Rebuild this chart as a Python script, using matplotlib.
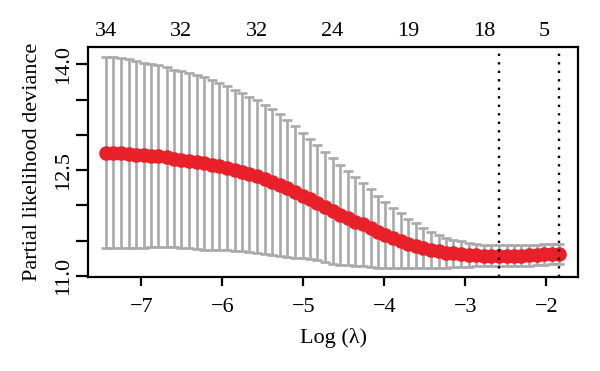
import numpy as np
import matplotlib
import matplotlib.pyplot as plt

matplotlib.use('Agg')

# cv.glmnet style plot: mean partial likelihood deviance +/- 1 se per lambda
log_lambda = [-7.44, -7.35, -7.25, -7.16, -7.07, -6.97, -6.88, -6.79, -6.69, -6.60,
              -6.51, -6.41, -6.32, -6.23, -6.13, -6.04, -5.95, -5.85, -5.76, -5.67,
              -5.57, -5.48, -5.39, -5.29, -5.20, -5.11, -5.01, -4.92, -4.83, -4.73,
              -4.64, -4.55, -4.45, -4.36, -4.27, -4.17, -4.08, -3.99, -3.89, -3.80,
              -3.71, -3.61, -3.52, -3.43, -3.33, -3.24, -3.15, -3.05, -2.96, -2.87,
              -2.77, -2.68, -2.59, -2.49, -2.40, -2.31, -2.21, -2.12, -2.03, -1.93, -1.84]

cvm = [12.75, 12.745, 12.74, 12.73, 12.72, 12.71, 12.705, 12.695, 12.68, 12.665,
       12.65, 12.635, 12.615, 12.595, 12.575, 12.555, 12.53, 12.50, 12.47, 12.44,
       12.41, 12.37, 12.33, 12.29, 12.24, 12.19, 12.14, 12.09, 12.04, 11.98,
       11.92, 11.87, 11.82, 11.77, 11.73, 11.68, 11.63, 11.58, 11.54, 11.50,
       11.46, 11.43, 11.40, 11.37, 11.35, 11.33, 11.32, 11.31, 11.30, 11.295,
       11.29, 11.285, 11.285, 11.285, 11.29, 11.29, 11.295, 11.30, 11.305, 11.31, 11.315]

cvsd = [1.36, 1.355, 1.35, 1.34, 1.33, 1.315, 1.30, 1.29, 1.275, 1.26,
        1.25, 1.24, 1.23, 1.22, 1.20, 1.18, 1.16, 1.14, 1.12, 1.10,
        1.08, 1.06, 1.03, 1.00, 0.97, 0.93, 0.89, 0.85, 0.82, 0.78,
        0.75, 0.71, 0.67, 0.63, 0.59, 0.55, 0.51, 0.47, 0.43, 0.39,
        0.35, 0.32, 0.28, 0.25, 0.23, 0.21, 0.19, 0.18, 0.17, 0.16,
        0.155, 0.15, 0.15, 0.15, 0.15, 0.15, 0.15, 0.145, 0.145, 0.145, 0.145]

# number of non-zero coefficients shown on the top axis
nzero_idx = [0, 10, 20, 30, 40, 50, 58]
nzero_lab = ['34', '32', '32', '24', '19', '18', '5']

# lambda.min and lambda.1se
idx_min = 52
idx_1se = 60

x_ticks = [-7, -6, -5, -4, -3, -2]
y_ticks = [11.0, 11.5, 12.0, 12.5, 13.0, 13.5, 14.0]
y_labels = ['11.0', '', '', '12.5', '', '', '14.0']

plt.rcParams['font.family'] = ['Liberation Serif', 'DejaVu Serif']
fs = 16

x = np.array(log_lambda)
m = np.array(cvm)
s = np.array(cvsd)

fig = plt.figure(figsize=(6, 3.71), dpi=100)
ax = fig.add_axes([0.1467, 0.2534, 0.8166, 0.6199])

# error bars (grey) then the red points on top
ax.errorbar(x, m, yerr=s, fmt='none', ecolor='#a9a9a9', elinewidth=1.9,
            capsize=3.5, capthick=1.9, zorder=2)
ax.plot(x, m, 'o', color='#e8202a', markersize=10.5, markeredgewidth=0, zorder=3)

for i in [idx_min, idx_1se]:
    ax.axvline(x[i], color='black', lw=1.7, linestyle=(0, (1, 2.6)), zorder=4)

ax.set_xlim(-7.66, -1.61)
ax.set_ylim(10.986, 14.245)

ax.set_xticks(x_ticks)
ax.set_yticks(y_ticks)
ax.set_yticklabels(y_labels, rotation=90, va='center')

ax.tick_params(axis='both', direction='out', width=1.6, labelsize=fs)
ax.tick_params(axis='y', length=8.6, pad=2)
ax.tick_params(axis='x', length=6.5, pad=8.5)
for sp in ax.spines.values():
    sp.set_linewidth(1.6)

# top axis with the counts
top = ax.secondary_xaxis('top')
top.set_xticks([x[i] for i in nzero_idx])
top.set_xticklabels(nzero_lab)
top.tick_params(length=0, pad=4, labelsize=fs)
top.spines['top'].set_visible(False)

ax.set_xlabel('Log (λ)', fontsize=fs, labelpad=8)
ax.set_ylabel('Partial likelihood deviance', fontsize=fs, labelpad=9)

plt.savefig('out.png', dpi=100)
